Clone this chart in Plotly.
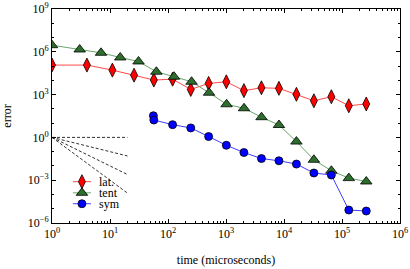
import plotly.graph_objects as go

# data
lat_t = [1, 4, 11, 26, 57, 120, 247, 502, 1013, 2036, 4083, 8178, 16369, 32752, 65519, 131054, 262125]
lat_err = [1.17e5, 1.17e5, 5.2e4, 2.3e4, 1.05e4, 1.2e4, 2.3e3, 6.1e3, 7.9e3, 1.9e3, 3.0e3, 2.75e3, 1.05e3, 3.7e2, 7.1e2, 1.65e2, 2.2e2]

tent_t = [1, 3, 7, 15, 31, 63, 127, 255, 511, 1023, 2047, 4095, 8191, 16383, 32767, 65535, 131071, 262143]
tent_err = [2.9e6, 1.45e6, 8.5e5, 4.0e5, 2.1e5, 4.0e4, 1.8e4, 8.0e3, 1.35e3, 2.1e2, 1.1e2, 2.6e1, 7.4, 5.1e-1, 2.7e-2, 4.6e-3, 1.4e-3, 8.1e-4]

sym_t = [56, 57, 120, 247, 502, 1013, 2036, 4083, 8178, 16369, 32752, 65519, 131054, 262125]
sym_err = [33, 16.5, 7.8, 4.6, 1.15, 0.28, 0.087, 0.033, 0.023, 0.0135, 0.0032, 0.0023, 8.1e-6, 6.9e-6]

guide_t = [1, 20]
guide_slopes = [0, 1, 2, 3]

series_names = ["lat.", "tent", "sym"]

x_tickvals = [1, 10, 100, 1e3, 1e4, 1e5, 1e6]
x_ticktext = ["10<sup>0</sup>", "10<sup>1</sup>", "10<sup>2</sup>", "10<sup>3</sup>",
              "10<sup>4</sup>", "10<sup>5</sup>", "10<sup>6</sup>"]
y_tickvals = [1e-6, 1e-3, 1, 1e3, 1e6, 1e9]
y_ticktext = ["10<sup>−6</sup>", "10<sup>−3</sup>", "10<sup>0</sup>", "10<sup>3</sup>",
              "10<sup>6</sup>", "10<sup>9</sup>"]

FONT = "Liberation Serif"

styles = [
    dict(line=dict(color="#ff4a4a", width=1),
         symbol="diamond-tall", size=10, color="#ff0000"),
    dict(line=dict(color="#6aa66a", width=1),
         symbol="triangle-up", size=10, color="#2d6e2d"),
    dict(line=dict(color="#3f3fff", width=1),
         symbol="circle", size=8, color="#0000ff"),
]

fig = go.Figure()

for s in guide_slopes:
    fig.add_trace(go.Scatter(
        x=guide_t, y=[1.0, guide_t[1] ** (-s)], mode="lines",
        line=dict(color="#333333", width=1, dash="3px,2px"),
        showlegend=False, hoverinfo="skip"))

for name, xs, ys, st in zip(series_names, [lat_t, tent_t, sym_t],
                            [lat_err, tent_err, sym_err], styles):
    fig.add_trace(go.Scatter(
        x=xs, y=ys, mode="lines+markers", name=name, showlegend=False,
        line=st["line"],
        marker=dict(symbol=st["symbol"], size=st["size"], color=st["color"],
                    line=dict(color="black", width=0.8))))

# compact legend drawn on an overlay axis spanning the plot area (0..1)
leg_x0, leg_xm, leg_x1, leg_xt = 0.060, 0.086, 0.112, 0.128
leg_rows = [0.193, 0.141, 0.090]
for name, st, yy in zip(series_names, styles, leg_rows):
    fig.add_trace(go.Scatter(
        x=[leg_x0, leg_x1], y=[yy, yy], mode="lines", line=st["line"],
        xaxis="x2", yaxis="y2", showlegend=False, hoverinfo="skip"))
    fig.add_trace(go.Scatter(
        x=[leg_xm], y=[yy], mode="markers",
        marker=dict(symbol=st["symbol"], size=st["size"], color=st["color"],
                    line=dict(color="black", width=0.8)),
        xaxis="x2", yaxis="y2", showlegend=False, hoverinfo="skip"))
    fig.add_annotation(x=leg_xt, y=yy, xref="x2", yref="y2", text=name,
                       showarrow=False, xanchor="left", yanchor="middle",
                       font=dict(family=FONT, size=12, color="black"))

axis_common = dict(
    type="log", showgrid=False, zeroline=False, showline=True,
    linecolor="black", linewidth=1, mirror="allticks",
    ticks="inside", ticklen=4, tickcolor="black", automargin=False,
    tickfont=dict(family=FONT, size=12, color="black"),
)

fig.update_layout(
    xaxis=dict(**axis_common,
               range=[0, 6], tickvals=x_tickvals, ticktext=x_ticktext,
               minor=dict(ticks="inside", ticklen=2, tickcolor="black", dtick="D1", showgrid=False),
               title=dict(text="time (microseconds)", font=dict(family=FONT, size=12, color="black"))),
    yaxis=dict(**axis_common,
               range=[-6, 9], tickvals=y_tickvals, ticktext=y_ticktext,
               minor=dict(ticks="inside", ticklen=2, tickcolor="black",
                          tickvals=[10.0 ** k for k in range(-6, 10)], showgrid=False),
               title=dict(text="error", font=dict(family=FONT, size=12, color="black"))),
    xaxis2=dict(overlaying="x", range=[0, 1], visible=False, domain=[0, 1]),
    yaxis2=dict(overlaying="y", range=[0, 1], visible=False, domain=[0, 1]),
    width=410, height=269,
    margin=dict(l=52, r=10, t=9, b=46),
    paper_bgcolor="white", plot_bgcolor="white",
    font=dict(family=FONT, size=12, color="black"),
    showlegend=False,
)

fig.write_html("out.html", config={"displayModeBar": False},
               post_script="document.body.style.margin='0px';")
